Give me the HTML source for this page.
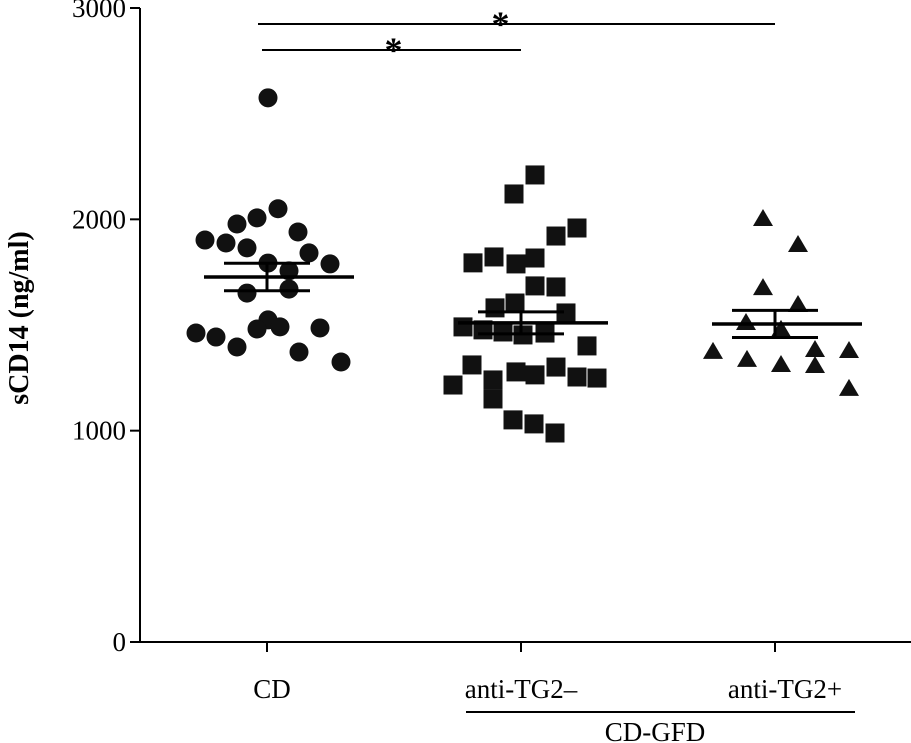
<!DOCTYPE html>
<html><head><meta charset="utf-8"><style>
html,body{margin:0;padding:0;background:#fff;}
svg{display:block;font-family:"Liberation Serif",serif;}
</style></head><body>
<svg id="chart" width="911" height="743" viewBox="0 0 911 743"></svg>
<script>
const categories=["CD","anti-TG2\u2013","anti-TG2+"];
const yTicks=[0,1000,2000,3000];
const cdValues=[2575,2050,2007,1978,1940,1902,1888,1865,1841,1789,1793,1756,1670,1651,1462,1443,1524,1481,1491,1486,1396,1372,1325];
const cdJitter=[1,11,-10,-30,31,-62,-41,-20,42,63,1,22,22,-20,-71,-51,1,-10,13,53,-30,32,74];
const negValues=[2210,2120,1959,1921,1794,1822,1789,1817,1685,1680,1604,1581,1557,1491,1477,1467,1453,1462,1401,1311,1216,1240,1278,1264,1301,1254,1249,1150,1051,1032,989];
const negJitter=[14,-7,56,35,-48,-27,-5,14,14,35,-6,-26,45,-58,-38,-18,2,24,66,-49,-68,-28,-5,14,35,56,76,-28,-8,13,34];
const posValues=[1997,1874,1670,1590,1505,1472,1368,1330,1306,1377,1301,1372,1193];
const posJitter=[-12,23,-12,23,-29,6,-62,-28,6,40,40,74,74];
const means=[1727,1510,1505];
const sems=[65,52,64];
const sigPairs=[[0,2],[0,1]];

const svg=document.getElementById('chart');
const NS='http://www.w3.org/2000/svg';
const X0=140,X1=911,Y0=642,Y1=8;
const catX=[267,521,775];
function yS(v){return Y0-(v/3000)*(Y0-Y1);}
function mk(t,a,p){const e=document.createElementNS(NS,t);for(const k in a)e.setAttribute(k,a[k]);(p||svg).appendChild(e);return e;}

const ax=mk('g',{});


mk('line',{x1:X0,y1:Y1,x2:X0,y2:Y0+1,stroke:'#000','stroke-width':2},ax);
mk('line',{x1:X0-1,y1:Y0,x2:X1,y2:Y0,stroke:'#000','stroke-width':2},ax);
yTicks.forEach(v=>{
  const y=yS(v);
  mk('line',{x1:X0-10,y1:y,x2:X0,y2:y,stroke:'#000','stroke-width':2},ax);
  const t=mk('text',{x:X0-14,y:y+9,'text-anchor':'end','font-size':27},ax);
  t.textContent=v;
  
  
});
categories.forEach((c,i)=>{
  mk('line',{x1:catX[i],y1:Y0,x2:catX[i],y2:Y0+10,stroke:'#000','stroke-width':2},ax);
  const t=mk('text',{x:catX[i]+(i==0?5:i==1?0:10),y:698,'text-anchor':'middle','font-size':27},ax);
  t.textContent=c;
  
  
});
mk('line',{x1:466,y1:712,x2:855,y2:712,stroke:'#000','stroke-width':2},ax);
const g2=mk('text',{x:655,y:741,'text-anchor':'middle','font-size':27},ax);
g2.textContent='CD-GFD';


const yl=mk('text',{x:0,y:0,'text-anchor':'middle','font-size':28,'font-weight':'bold',transform:'translate(28,318) rotate(-90)'},ax);
yl.textContent='sCD14 (ng/ml)';



function point(shape,cx,cy){
  let e;
  if(shape==0)e=mk('circle',{cx:cx,cy:cy,r:9.5,fill:'#111'});
  else if(shape==1)e=mk('rect',{x:cx-9.5,y:cy-9.5,width:19,height:19,fill:'#111'});
  else e=mk('polygon',{points:`${cx-10},${cy+6} ${cx+10},${cy+6} ${cx},${cy-11}`,fill:'#111'});
  
  
}
cdValues.forEach((v,i)=>point(0,catX[0]+cdJitter[i],yS(v)));
negValues.forEach((v,i)=>point(1,catX[1]+negJitter[i],yS(v)));
posValues.forEach((v,i)=>point(2,catX[2]+posJitter[i],yS(v)));

means.forEach((m,i)=>{
  const g=mk('g',{});
  
  
  const cx=catX[i];
  mk('line',{x1:cx-63,y1:yS(m),x2:cx+87,y2:yS(m),stroke:'#000','stroke-width':3.5},g);
  mk('line',{x1:cx-43,y1:yS(m+sems[i]),x2:cx+43,y2:yS(m+sems[i]),stroke:'#000','stroke-width':3},g);
  mk('line',{x1:cx-43,y1:yS(m-sems[i]),x2:cx+43,y2:yS(m-sems[i]),stroke:'#000','stroke-width':3},g);
  mk('line',{x1:cx,y1:yS(m+sems[i]),x2:cx,y2:yS(m-sems[i]),stroke:'#000','stroke-width':3},g);
});

const sigY=[24,50];
sigPairs.forEach((p,k)=>{
  const g=mk('g',{});
  
  
  const a=catX[p[0]]-9+k*4,b=catX[p[1]];
  mk('line',{x1:a,y1:sigY[k],x2:b,y2:sigY[k],stroke:'#000','stroke-width':2},g);
  const t=mk('text',{x:(a+b)/2+(k==0?-16:2),y:sigY[k]+12,'text-anchor':'middle','font-size':36,'font-weight':'bold'},g);
  t.textContent='*';
});
</script>
</body></html>
